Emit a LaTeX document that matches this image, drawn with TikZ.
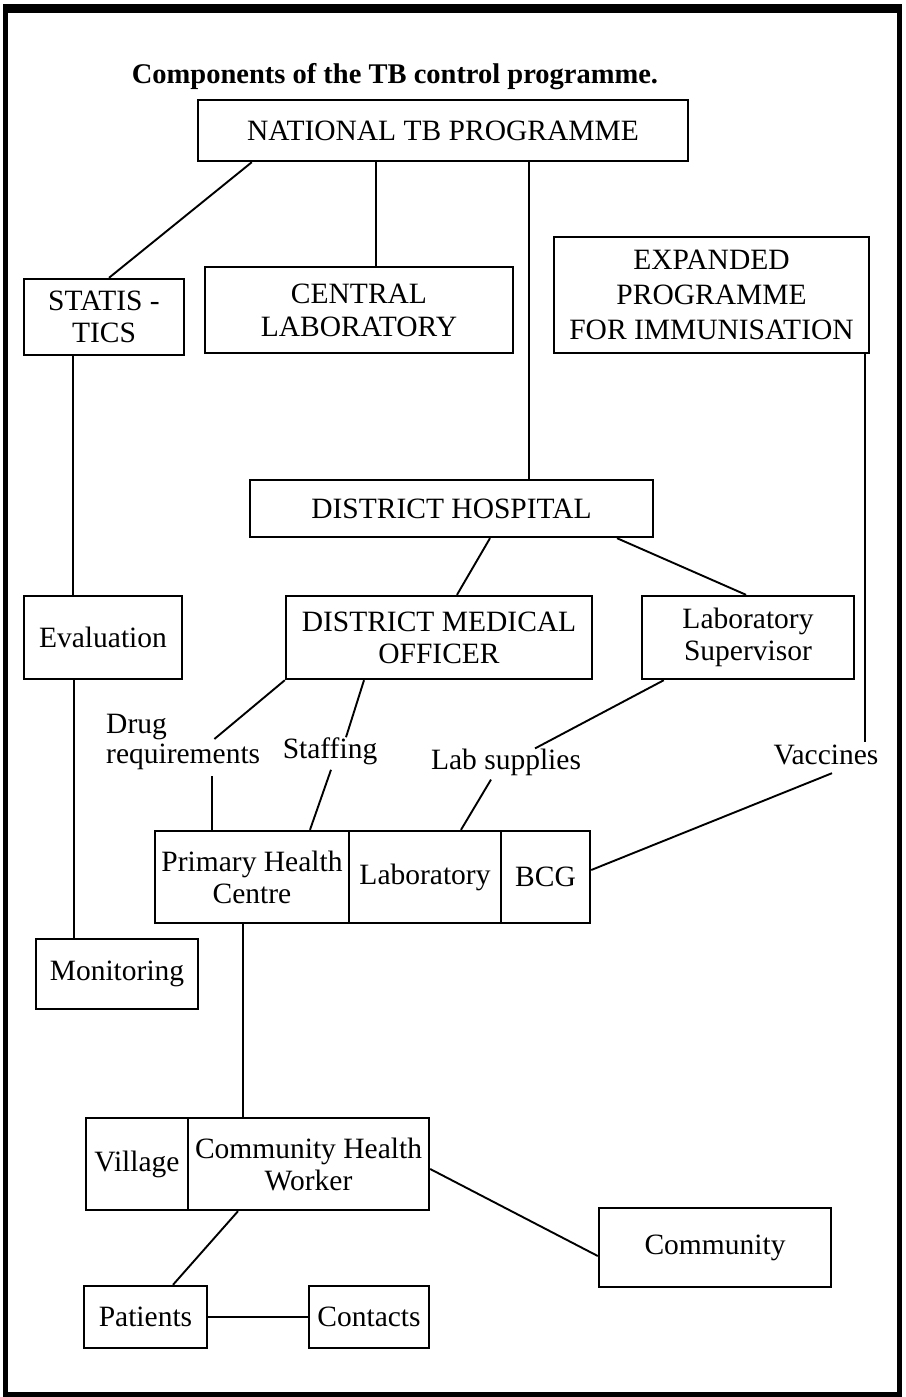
\documentclass[tikz,border=0pt]{standalone}
\usepackage{fontspec}
\setmainfont{Liberation Serif}
\usetikzlibrary{calc}
\begin{document}
\begin{tikzpicture}[x=1pt,y=-1pt,
  box/.style={draw, line width=2.4pt, inner sep=0pt, align=center, font=\fontsize{29.5}{32}\selectfont},
  lbl/.style={inner sep=0pt, align=left, font=\fontsize{29.5}{30}\selectfont},
  conn/.style={line width=1.9pt}]
\useasboundingbox (0,0) rectangle (905,1397);
% frame
\draw[line width=5pt] (5.5,9) rectangle (899,1394);
\draw[line width=9pt] (3,8.5) -- (901.5,8.5);
% title
\node[font=\bfseries\fontsize{28.5}{30}\selectfont, anchor=base, inner sep=0pt] (title) at (395,84) {Components of the TB control programme.};
% boxes
\node[box, minimum width=490, minimum height=61] (ntp) at (443,130.5) {NATIONAL TB PROGRAMME};
\node[box, minimum width=160, minimum height=76] (stat) at (104,317) {STATIS -\\TICS};
\node[box, minimum width=308, minimum height=86, font=\fontsize{29.5}{33}\selectfont] (clab) at (359,310) {CENTRAL\\LABORATORY};
\node[box, minimum width=315, minimum height=116, font=\fontsize{29.5}{35}\selectfont] (epi) at (711.5,295) {EXPANDED\\PROGRAMME\\FOR IMMUNISATION};
\node[box, minimum width=403, minimum height=57] (dh) at (451.5,508.5) {DISTRICT HOSPITAL};
\node[box, minimum width=158, minimum height=83] (eval) at (103,637.5) {Evaluation};
\node[box, minimum width=306, minimum height=83] (dmo) at (439,637.5) {DISTRICT MEDICAL\\OFFICER};
\node[box, minimum width=212, minimum height=83] (ls) at (748,637.5) {Laboratory\\Supervisor};
\node[box, minimum width=194, minimum height=92] (phc) at (252,877) {Primary Health\\Centre};
\node[box, minimum width=152, minimum height=92] (lab) at (425,877) {Laboratory};
\node[box, minimum width=89, minimum height=92] (bcg) at (545.5,877) {BCG};
\node[box, minimum width=162, minimum height=70] (mon) at (117,974) {Monitoring};
\node[box, minimum width=102, minimum height=92] (vil) at (137,1164) {Village};
\node[box, minimum width=241, minimum height=92] (chw) at (308.5,1164) {Community Health\\Worker};
\node[box, minimum width=232, minimum height=79] (comm) at (715,1247.5) {Community};
\node[box, minimum width=123, minimum height=62] (pat) at (145.5,1317) {Patients};
\node[box, minimum width=120, minimum height=62] (cont) at (369,1317) {Contacts};
% labels
\node[lbl, anchor=west] (drug) at (106,742) {Drug\\requirements};
\node[lbl] (staff) at (330,751) {Staffing};
\node[lbl] (labs) at (506,762) {Lab supplies};
\node[lbl] (vac) at (826,755) {Vaccines};
% connectors
\draw[conn] ([xshift=55]ntp.south west) -- ([xshift=5]stat.north);
\draw[conn] ([xshift=17]clab.north) -- ([xshift=17]clab.north |- ntp.south);
\draw[conn] ([xshift=77.5]dh.north) -- ([xshift=77.5]dh.north |- ntp.south);
\draw[conn] ([xshift=-31]stat.south) -- ([xshift=-31]stat.south |- eval.north);
\draw[conn] ([xshift=-29]eval.south) -- ([xshift=-29]eval.south |- mon.north);
\draw[conn] ([xshift=38.5]dh.south) -- ([xshift=18]dmo.north);
\draw[conn] ([xshift=165.5]dh.south) -- ([xshift=-2]ls.north);
\draw[conn] ([xshift=153.5]epi.south) -- ([xshift=153.5,yshift=3]epi.south |- vac.north);
\draw[conn] ([xshift=6,yshift=-8]vac.south) -- ([yshift=7]bcg.east);
\draw[conn] (dmo.south west) -- ([xshift=-46,yshift=-25]drug.north east);
\draw[conn] ([xshift=29,yshift=-6]drug.south) -- ([xshift=29]drug.south |- phc.north);
\draw[conn] ([xshift=-75]dmo.south) -- ([xshift=16]staff.north);
\draw[conn] ([xshift=1,yshift=-5]staff.south) -- ([xshift=58]phc.north);
\draw[conn] ([xshift=23]ls.south west) -- ([xshift=29]labs.north);
\draw[conn] ([xshift=-15,yshift=-4]labs.south) -- ([xshift=36]lab.north);
\draw[conn] ([xshift=-9]phc.south) -- ([xshift=-9]phc.south |- chw.north);
\draw[conn] ([yshift=-5]chw.east) -- ([yshift=-8.5]comm.west);
\draw[conn] ([xshift=-70.5]chw.south) -- ([xshift=27.5]pat.north);
\draw[conn] (pat.east) -- (cont.west);
\end{tikzpicture}
\end{document}
